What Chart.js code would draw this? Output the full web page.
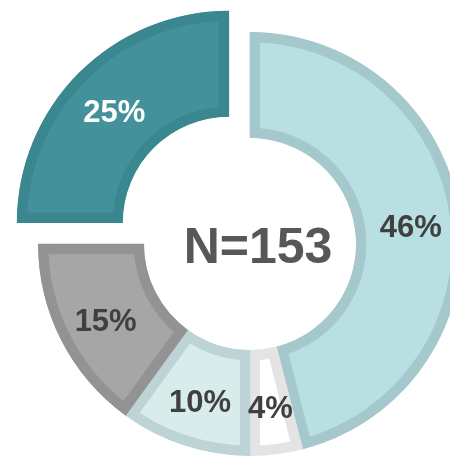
<!DOCTYPE html>
<html>
<head>
    <meta charset="utf-8">
    <style>
        html, body { margin: 0; padding: 0; background: #ffffff; }
        #wrap { width: 450px; height: 458px; }
    </style>
</head>
<body>
    <div id="wrap">
        <canvas id="myChart"></canvas>
    </div>

    <script src="https://cdn.jsdelivr.net/npm/chart.js@4.4.0/dist/chart.umd.min.js"></script>
    <script>
        // shares of the 153 answers, clockwise from 12 o'clock
        const labels = ['A', 'B', 'C', 'D', 'E'];
        const shares = [46, 4, 10, 15, 25];
        const totalN = 153;

        const fills   = ['#b8dfe1', '#ffffff', '#d8ecec', '#a6a6a6', '#43929b'];
        const borders = ['#a4c8cb', '#e4e4e4', '#bdd3d5', '#939393', '#3a878f'];
        const textCols = ['#404040', '#404040', '#404040', '#404040', '#ffffff'];

        const sliceLabels = {
            id: 'sliceLabels',
            afterDatasetsDraw(chart) {
                const ctx = chart.ctx;
                const meta = chart.getDatasetMeta(0);
                ctx.save();
                ctx.font = 'bold 31px "Liberation Sans", Arial, sans-serif';
                ctx.textAlign = 'center';
                ctx.textBaseline = 'middle';
                meta.data.forEach((arc, i) => {
                    const p = arc.getProps(['x', 'y', 'startAngle', 'endAngle', 'innerRadius', 'outerRadius', 'options'], true);
                    const mid = (p.startAngle + p.endAngle) / 2;
                    // chart.js moves an offset arc by offset / 4
                    const off = (p.options.offset || 0) / 4;
                    const r = (p.innerRadius + p.outerRadius) / 2 + 3;
                    const x = p.x + Math.cos(mid) * (r + off);
                    const y = p.y + Math.sin(mid) * (r + off) + 5;
                    ctx.fillStyle = textCols[i];
                    ctx.fillText(shares[i] + '%', x, y);
                });
                // centre text
                ctx.font = 'bold 50px "Liberation Sans", Arial, sans-serif';
                ctx.fillStyle = '#575757';
                const a = meta.data[0];
                ctx.fillText('N=' + totalN, a.x + 8, a.y + 5);
                ctx.restore();
            }
        };

        const ctx = document.getElementById('myChart').getContext('2d');
        const myChart = new Chart(ctx, {
            type: 'doughnut',
            data: {
                labels,
                datasets: [{
                    data: shares,
                    backgroundColor: fills,
                    borderColor: borders,
                    borderWidth: 10,
                    borderAlign: 'inner',
                    offset: [0, 0, 0, 0, 120],
                    clip: false
                }]
            },
            options: {
                responsive: true,
                maintainAspectRatio: false,
                animation: false,
                events: [],
                radius: 212,
                cutout: '50%',
                layout: { padding: { left: 50, right: 0, top: 30, bottom: 0 } },
                plugins: {
                    legend: { display: false },
                    tooltip: { enabled: false }
                }
            },
            plugins: [sliceLabels]
        });
    </script>
</body>
</html>
